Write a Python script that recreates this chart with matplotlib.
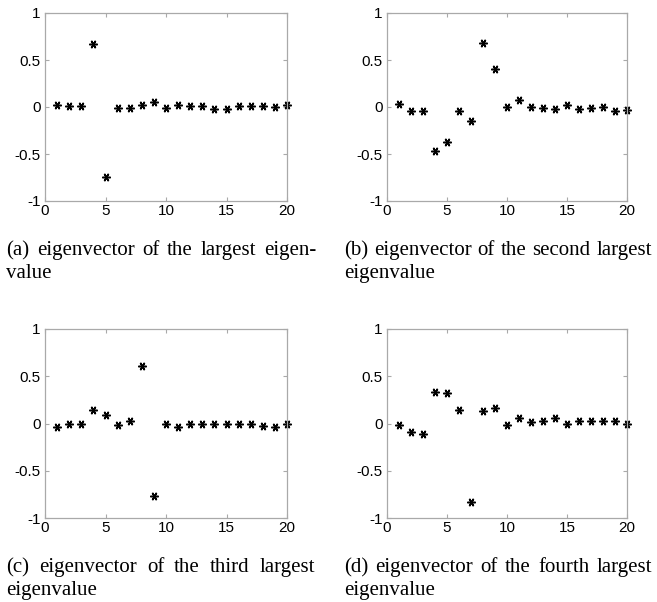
import numpy as np
import matplotlib
matplotlib.use("Agg")
import matplotlib.pyplot as plt

idx = list(range(1, 21))
vec_a = [0.018, 0.007, 0.007, 0.67, -0.745, -0.007, -0.007, 0.025, 0.053, -0.007,
         0.025, 0.010, 0.010, -0.020, -0.018, 0.014, 0.014, 0.010, 0.000, 0.025]
vec_b = [0.028, -0.040, -0.043, -0.465, -0.370, -0.043, -0.145, 0.677, 0.404, 0.000,
         0.074, -0.004, -0.007, -0.018, 0.018, -0.018, -0.014, 0.004, -0.043, -0.028]
vec_c = [-0.039, -0.004, -0.007, 0.140, 0.088, -0.018, 0.028, 0.610, -0.768, -0.007,
         -0.035, -0.007, -0.007, -0.007, -0.007, -0.007, -0.007, -0.028, -0.039, -0.004]
vec_d = [-0.021, -0.091, -0.112, 0.337, 0.326, 0.140, -0.830, 0.130, 0.168, -0.021,
         0.053, 0.018, 0.025, 0.063, 0.000, 0.025, 0.028, 0.028, 0.025, -0.010]

xticks = [0, 5, 10, 15, 20]
yticks = [-1, -0.5, 0, 0.5, 1]
yticklabels = ["-1", "-0.5", "0", "0.5", "1"]

captions = [
    ("(a) eigenvector of the largest eigen-", "value"),
    ("(b) eigenvector of the second largest", "eigenvalue"),
    ("(c) eigenvector of the third largest", "eigenvalue"),
    ("(d) eigenvector of the fourth largest", "eigenvalue"),
]

W, H = 657, 602
fig = plt.figure(figsize=(W / 100, H / 100), dpi=100)

# axes boxes in pixels: (left, top, right, bottom)
boxes = [(45, 13, 287, 201), (387, 13, 627, 201),
         (45, 329, 287, 518), (387, 329, 627, 518)]
series = [vec_a, vec_b, vec_c, vec_d]
grey = "#a9a9a9"

for (l, t, r, b), vals in zip(boxes, series):
    ax = fig.add_axes([l / W, 1 - b / H, (r - l) / W, (b - t) / H])
    ax.plot(idx, vals, linestyle="none", marker=(6, 2, 90), markersize=6,
            markeredgewidth=1.1, color="black", clip_on=False)
    ax.set_xlim(0, 20)
    ax.set_ylim(-1, 1)
    ax.set_xticks(xticks)
    ax.set_yticks(yticks)
    ax.set_yticklabels(yticklabels)
    for s in ax.spines.values():
        s.set_color(grey)
        s.set_linewidth(0.9)
    ax.tick_params(direction="in", length=3, width=0.8, color=grey,
                   top=True, right=True, labelsize=11, labelcolor="black")
    ax.tick_params(axis="x", pad=2)
    ax.tick_params(axis="y", pad=3)
    for lab in ax.get_xticklabels() + ax.get_yticklabels():
        lab.set_fontfamily("Liberation Sans")

# captions (justified first lines)
cap_cols = [(6, 316), (344, 652), (6, 315), (344, 652)]
cap_base = [(255, 278), (255, 278), (572, 595), (572, 595)]
fs = 15
renderer = fig.canvas.get_renderer()
for (x0, x1), (y1, y2), (line1, line2) in zip(cap_cols, cap_base, captions):
    words = line1.split(" ")
    texts = []
    for w in words:
        tx = fig.text(0, 1 - y1 / H, w, fontsize=fs, family="Liberation Serif",
                      va="baseline", ha="left")
        texts.append(tx)
    widths = [tx.get_window_extent(renderer).width for tx in texts]
    gap = (x1 - x0 - sum(widths)) / (len(words) - 1)
    x = x0
    for tx, wd in zip(texts, widths):
        tx.set_x(x / W)
        x += wd + gap
    fig.text(x0 / W, 1 - y2 / H, line2, fontsize=fs, family="Liberation Serif",
             va="baseline", ha="left")

fig.savefig("out.png", dpi=100)
